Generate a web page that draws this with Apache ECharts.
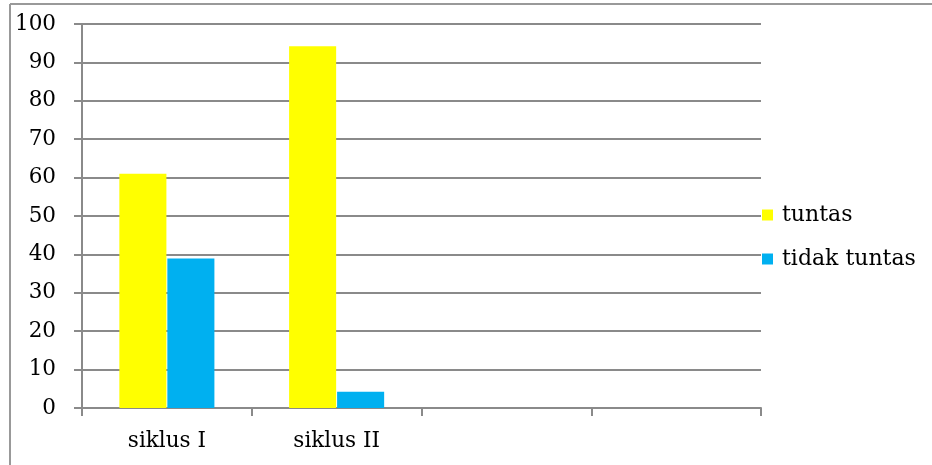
<!DOCTYPE html>
<html>
<head>
<meta charset="utf-8">
<script src="https://cdn.jsdelivr.net/npm/echarts@6/dist/echarts.min.js"></script>
<style>
  html, body { margin: 0; padding: 0; background: #fff; }
  #chart { width: 932px; height: 465px; }
</style>
</head>
<body>
<div id="chart"></div>
<script>
// data
var categories = ['siklus I', 'siklus II', '', ''];
var tuntas = [61, 94.2, null, null];
var tidakTuntas = [38.9, 4.2, null, null];
var yTicks = { min: 0, max: 100, interval: 10 };

var chart = echarts.init(document.getElementById('chart'));
var fontFam = '"DejaVu Serif", serif';
var gridGrey = '#8a8a8a';

var option = {
    backgroundColor: '#fff',
    animation: false,
    textStyle: { fontFamily: fontFam },
    graphic: [
        // outer frame (top and left edges of the picture)
        { type: 'line', shape: { x1: 10, y1: 4, x2: 932, y2: 4 }, style: { stroke: '#999', lineWidth: 2 } },
        { type: 'line', shape: { x1: 10, y1: 4, x2: 10, y2: 465 }, style: { stroke: '#999', lineWidth: 2 } }
    ],
    grid: { left: 82, right: 171, top: 24, bottom: 57 },
    legend: {
        orient: 'vertical',
        left: 757,
        top: 199,
        itemWidth: 11,
        itemHeight: 11,
        itemGap: 22,
        icon: 'rect',
        textStyle: { fontFamily: fontFam, fontSize: 22, color: '#000', padding: [0, 0, 0, 4] },
        data: ['tuntas', 'tidak tuntas']
    },
    xAxis: {
        type: 'category',
        data: categories,
        axisLine: { lineStyle: { color: gridGrey, width: 2 } },
        axisTick: { show: true, length: 8, lineStyle: { color: gridGrey, width: 2 } },
        axisLabel: { color: '#000', fontSize: 21.5, fontFamily: fontFam, margin: 22 }
    },
    yAxis: {
        type: 'value',
        min: yTicks.min,
        max: yTicks.max,
        interval: yTicks.interval,
        axisLine: { show: true, lineStyle: { color: gridGrey, width: 2 } },
        axisTick: { show: true, length: 8, lineStyle: { color: gridGrey, width: 2 } },
        axisLabel: { color: '#000', fontSize: 21.5, fontFamily: fontFam, margin: 26 },
        splitLine: { lineStyle: { color: gridGrey, width: 2 } }
    },
    series: [
        {
            name: 'tuntas',
            type: 'bar',
            data: tuntas,
            itemStyle: { color: '#FFFF00' },
            barGap: '2%',
            barCategoryGap: '44%'
        },
        {
            name: 'tidak tuntas',
            type: 'bar',
            data: tidakTuntas,
            itemStyle: { color: '#00B0F0' }
        }
    ]
};
chart.setOption(option);
window.addEventListener('resize', chart.resize);
</script>
</body>
</html>
